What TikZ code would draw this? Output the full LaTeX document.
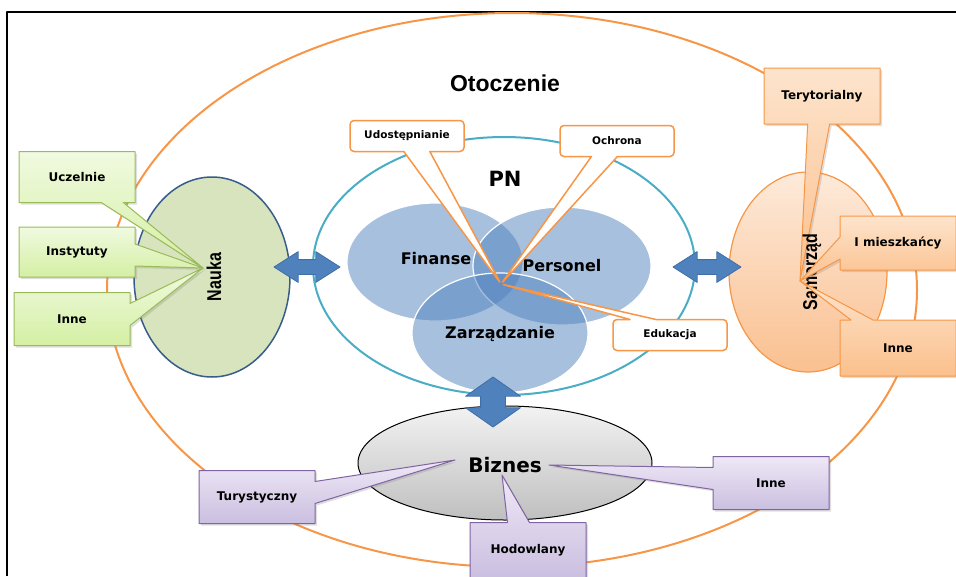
\documentclass[tikz,border=0pt]{standalone}
\usepackage{fontspec}
\setmainfont{DejaVu Sans}
\newfontfamily\arialfont{Liberation Sans}
\usetikzlibrary{shapes.geometric, shapes.arrows, shapes.callouts, shadows}
\definecolor{otorange}{HTML}{F79646}
\definecolor{pnteal}{HTML}{4BACC6}
\definecolor{vennblue}{HTML}{4F81BD}
\definecolor{arrowedge}{HTML}{3F6EA8}
\definecolor{naukagreen}{HTML}{D7E4BD}
\definecolor{naukablue}{HTML}{385D8A}
\definecolor{samtop}{HTML}{FDEADA}
\definecolor{sambot}{HTML}{FAC090}
\definecolor{greentop}{HTML}{F0FAE0}
\definecolor{greenbot}{HTML}{D4EFA3}
\definecolor{greenline}{HTML}{9BBB59}
\definecolor{orangetop}{HTML}{FDE4CD}
\definecolor{orangebot}{HTML}{FBC08C}
\definecolor{purptop}{HTML}{EEE8F6}
\definecolor{purpbot}{HTML}{CBBFE0}
\definecolor{purpline}{HTML}{8064A2}
\tikzset{
  ring/.style={ellipse, line width=2pt, inner sep=0pt},
  venn/.style={ellipse, fill=vennblue, fill opacity=0.5, draw=white, line width=1.2pt,
               minimum width=176pt, minimum height=118pt, inner sep=0pt},
  vennlbl/.style={font=\bfseries\fontsize{16}{19}\selectfont},
  sidelbl/.style={rotate=90, font=\arialfont\bfseries\fontsize{20}{23}\selectfont},
  dblarrow/.style={double arrow, fill=vennblue, draw=arrowedge, line width=0.8pt, inner sep=7pt,
                   double arrow head extend=8pt, double arrow tip angle=65, minimum width=30pt},
  pncall/.style={rectangle callout, draw=otorange, line width=1.5pt, fill=white, rounded corners=4pt,
                 minimum width=114pt, minimum height=31pt, inner sep=0pt, callout pointer width=26pt,
                 font=\bfseries\fontsize{10.5}{12}\selectfont},
  boxcall/.style={rectangle callout, line width=1pt, minimum width=116pt, minimum height=53pt,
                  inner sep=0pt, callout pointer width=22pt, font=\bfseries\fontsize{12}{14}\selectfont,
                  drop shadow={shadow xshift=2pt, shadow yshift=-2pt, opacity=0.25}},
  gcall/.style={boxcall, draw=greenline, top color=greentop, bottom color=greenbot},
  ocall/.style={boxcall, draw=otorange, top color=orangetop, bottom color=orangebot},
  vcall/.style={boxcall, draw=purpline, top color=purptop, bottom color=purpbot},
}
\begin{document}
\begin{tikzpicture}[x=1pt, y=-1pt, line join=round]
  \useasboundingbox (0,0) rectangle (956,576);
  \draw[line width=2pt] (7,576) -- (7,12) -- (956,12);

  %% ── Otoczenie ──
  \node[ring, draw=otorange, minimum width=810pt, minimum height=554pt] (otocz) at (512,290) {};
  \node[font=\arialfont\bfseries\fontsize{23}{26}\selectfont] (otoczlbl) at (505,83) {Otoczenie};

  %% ── PN ──
  \node[ring, draw=pnteal, minimum width=382pt, minimum height=258pt] (pn) at (504,266) {};
  \node[font=\bfseries\fontsize{21}{24}\selectfont] (pnlbl) at (505,179) {PN};
  \node[venn] (fin) at (435,262) {};
  \node[venn, minimum width=178pt] (pers) at (562,266) {};
  \node[venn, minimum height=120pt] (zarz) at (500,333) {};
  \node[vennlbl] (finlbl) at (436,259) {Finanse};
  \node[vennlbl] (perslbl) at (562,266) {Personel};
  \node[vennlbl] (zarzlbl) at (500,334) {Zarządzanie};

  %% ── Nauka, Samorzad, Biznes ──
  \node[ellipse, fill=naukagreen, draw=naukablue, line width=1.5pt, inner sep=0pt,
        minimum width=156pt, minimum height=200pt] (nauka) at (212,277) {};
  \node[sidelbl] (naukalbl) at (214,277) {\scalebox{0.8}[1]{Nauka}};
  \node[ellipse, top color=samtop, bottom color=sambot, draw=otorange, line width=1.2pt, inner sep=0pt,
        minimum width=158pt, minimum height=200pt] (sam) at (808,272) {};
  \node[ellipse, top color=black!5, bottom color=black!25, draw=black, line width=1pt, inner sep=0pt,
        minimum width=294pt, minimum height=114pt] (biz) at (505,463) {};
  \node[font=\bfseries\fontsize{20}{23}\selectfont] (bizlbl) at (505,465) {Biznes};

  %% Arrows
  \node[dblarrow, minimum height=66pt] (arrL) at (307,267) {};
  \node[dblarrow, minimum height=68pt] (arrR) at (707,267) {};
  \node[dblarrow, rotate=90, minimum height=50pt, minimum width=54pt, inner sep=12pt,
        double arrow head extend=15pt, double arrow tip angle=110] (arrB) at (493,402) {};

  %% Callouts
  \coordinate (pntip) at (501,284);
  \coordinate (naukatip) at (203,268);
  \coordinate (samtip) at (800,281);
  \coordinate (biztipL) at (455,460);
  \coordinate (biztipR) at (549,465);
  \coordinate (biztipB) at (502,475);

  \node[pncall, callout absolute pointer=(pntip)] (udost) at (407,136) {Udostępnianie};
  \node[pncall, callout absolute pointer=(pntip)] (ochr) at (617,141) {Ochrona};
  \node[pncall, callout absolute pointer=(pntip)] (eduk) at (670,335) {Edukacja};

  \node[gcall, minimum height=51pt, callout absolute pointer=(naukatip)] (uczel) at (77,177) {Uczelnie};
  \node[gcall, minimum height=50pt, callout absolute pointer=(naukatip)] (inst) at (77,252) {Instytuty};
  \node[gcall, callout absolute pointer=(naukatip)] (ninne) at (72,319) {Inne};

  \node[ocall, minimum height=56pt, callout absolute pointer=(samtip)] (teryt) at (822,96) {Terytorialny};
  \node[sidelbl] (samlbl) at (812,272) {\scalebox{0.8}[1]{Samorząd}};
  \node[ocall, minimum height=54pt, callout absolute pointer=(samtip)] (miesz) at (898,243) {I mieszkańcy};
  \node[ocall, minimum height=56pt, callout absolute pointer=(samtip)] (sinne) at (898,348) {Inne};

  \node[vcall, callout absolute pointer=(biztipL)] (tury) at (257,497) {Turystyczny};
  \node[vcall, callout absolute pointer=(biztipR)] (binne) at (771,483) {Inne};
  \node[vcall, minimum height=55pt, callout absolute pointer=(biztipB)] (hodow) at (528,550) {Hodowlany};
\end{tikzpicture}
\end{document}
